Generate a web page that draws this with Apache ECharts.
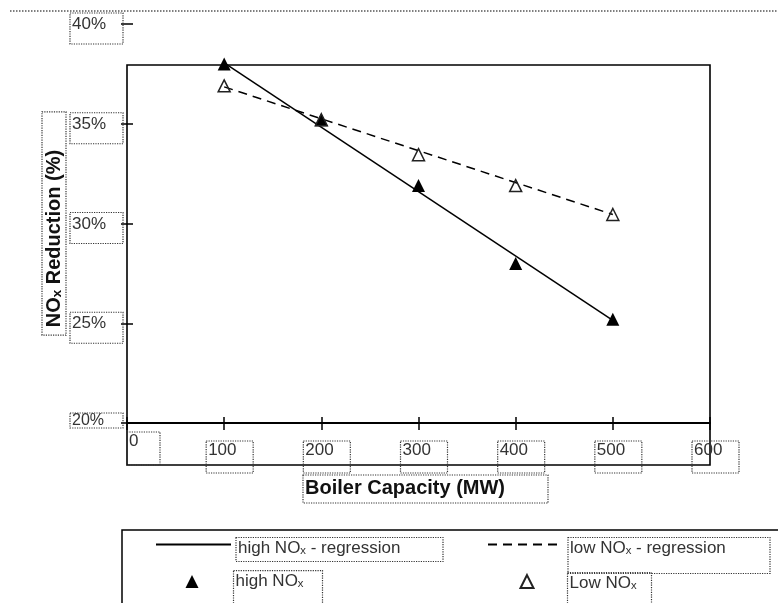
<!DOCTYPE html>
<html>
<head>
<meta charset="utf-8">
<script src="https://cdn.jsdelivr.net/npm/echarts@6/dist/echarts.min.js"></script>
<style>
  html, body { margin: 0; padding: 0; background: #fff; }
  #chart { width: 778px; height: 603px; }
</style>
</head>
<body>
<div id="chart"></div>
<script>
// ---- data ----
const capacity = [100, 200, 300, 400, 500];          // MW
const highNox = [38.0, 35.2, 31.9, 28.0, 25.2];      // % reduction, high NOx units
const lowNox = [36.9, 35.2, 33.45, 31.9, 30.45];     // % reduction, low NOx units
const highRegCap = [100, 500];
const highRegVal = [38.05, 25.15];
const lowRegCap = [100, 500];
const lowRegVal = [36.85, 30.45];
const xTicks = [0, 600, 100];   // min, max, step
const yTicks = [20, 40, 5];     // min, max, step (percent)
const seriesNames = ['high NOₓ - regression', 'low NOₓ - regression', 'high NOₓ', 'Low NOₓ'];
const xName = 'Boiler Capacity (MW)';
const yName = 'NOₓ Reduction (%)';

const FONT = "'Liberation Sans', Arial, 'DejaVu Sans', sans-serif";
const TXT = '#333';
const DOT = { borderType: 'dotted', borderColor: '#333', borderWidth: 1.2 };

function pairs(xs, ys) { return xs.map((x, i) => [x, ys[i]]); }

const chart = echarts.init(document.getElementById('chart'));

function legendBox(name, left, top, itemW, itemH, lead, spacerH, boxW, pad, hideSymbol) {
  const l = {
    data: [name], left: left, top: top, padding: 0, orient: 'horizontal',
    itemWidth: itemW, itemHeight: itemH, selectedMode: false,
    formatter: n => '{s|}{b|' + n + '}',
    textStyle: {
      fontFamily: FONT, fontSize: 17, color: TXT,
      rich: {
        s: { width: lead, height: spacerH, align: 'left' },
        b: Object.assign({ width: boxW, padding: pad, verticalAlign: 'bottom', align: 'left',
                           fontFamily: FONT, fontSize: 17, color: TXT }, DOT)
      }
    }
  };
  if (hideSymbol) l.itemStyle = { opacity: 0 };
  return l;
}

const option = {
  animation: false,
  textStyle: { fontFamily: FONT },
  graphic: [
    { type: 'line', shape: { x1: 10, y1: 11, x2: 778, y2: 11 },
      style: { stroke: '#555', lineWidth: 1.5, lineDash: [1.5, 1.5] } },
    { type: 'rect', shape: { x: 122, y: 530, width: 700, height: 120 },
      style: { fill: 'none', stroke: '#000', lineWidth: 1.5 } }
  ],
  grid: [
    { left: 127, right: 68, top: 24, bottom: 180, show: false },
    { left: 127, right: 68, top: 65, bottom: 138, show: true, borderColor: '#000', borderWidth: 1.6, backgroundColor: 'transparent' }
  ],
  xAxis: [
    {
      type: 'value', gridIndex: 0, position: 'bottom', min: xTicks[0], max: xTicks[1], interval: xTicks[2],
      axisLine: { show: true, onZero: false, lineStyle: { color: '#000', width: 2 } },
      axisTick: { show: true, inside: true, length: 6, lineStyle: { color: '#000', width: 1.5 } },
      splitLine: { show: false },
      axisLabel: {
        margin: 9, fontSize: 17, color: TXT, fontFamily: FONT,
        formatter: v => v === 0 ? '{z0|}{z|0}' : '{s|}{b|' + v + '}',
        rich: {
          s: { width: 11, height: 41, align: 'left' },
          b: Object.assign({ width: 43, padding: [1, 2, 14, 2], verticalAlign: 'bottom', align: 'left',
                             fontSize: 17, color: TXT, fontFamily: FONT }, DOT),
          z0: { width: 33, height: 1, align: 'left' },
          z: Object.assign({ width: 29, padding: [1, 2, 15, 2], verticalAlign: 'top', align: 'left',
                             fontSize: 17, color: TXT, fontFamily: FONT }, DOT)
        }
      },
      name: '{s|}{n|' + xName + '}', nameLocation: 'middle', nameGap: 52, nameMoveOverlap: false,
      nameTextStyle: {
        rich: {
          s: { width: 14, align: 'left' },
          n: Object.assign({ width: 197, padding: [3, 46, 5, 2], align: 'left',
                             fontSize: 20, fontWeight: 'bold', color: '#111', fontFamily: FONT }, DOT)
        }
      }
    },
    {
      type: 'value', gridIndex: 0, position: 'bottom', min: xTicks[0], max: xTicks[1], interval: xTicks[2],
      axisLine: { show: false }, axisLabel: { show: false }, splitLine: { show: false },
      axisTick: { show: true, inside: false, length: 7, lineStyle: { color: '#000', width: 1.5 } }
    },
    { type: 'value', gridIndex: 1, show: false }
  ],
  yAxis: [
    {
      type: 'value', gridIndex: 0, position: 'left', min: yTicks[0], max: yTicks[1], interval: yTicks[2],
      axisLine: { show: false },
      axisTick: { show: true, inside: false, length: 6, lineStyle: { color: '#000', width: 1.5 } },
      splitLine: { show: false },
      axisLabel: {
        margin: 57, align: 'left', fontSize: 17, color: TXT, fontFamily: FONT,
        formatter: v => v === yTicks[0] ? '{s2|}{c|' + v + '%}' : '{s|}{b|' + v + '%}',
        rich: {
          s: { width: 0, height: 40, align: 'left' },
          b: Object.assign({ width: 49, padding: [3, 2, 11, 2], verticalAlign: 'bottom', align: 'left',
                             fontSize: 17, color: TXT, fontFamily: FONT }, DOT),
          s2: { width: 0, height: 20, align: 'left' },
          c: Object.assign({ width: 49, height: 13, padding: [1, 2, 1, 2], verticalAlign: 'top', align: 'left',
                             fontSize: 16, color: TXT, fontFamily: FONT }, DOT)
        }
      },
      name: yName, nameLocation: 'middle', nameGap: 61, nameRotate: 90, nameMoveOverlap: false,
      nameTextStyle: Object.assign({ fontSize: 20, fontWeight: 'bold', color: '#111', fontFamily: FONT,
                                     width: 180, padding: [2, 38, 2, 8] }, DOT)
    },
    {
      type: 'value', gridIndex: 0, position: 'left', offset: 0, min: yTicks[0], max: yTicks[1], interval: yTicks[2],
      axisLine: { show: false }, axisLabel: { show: false }, splitLine: { show: false },
      axisTick: { show: true, inside: true, length: 6, lineStyle: { color: '#000', width: 1.5 } }
    },
    { type: 'value', gridIndex: 1, show: false }
  ],
  legend: [
    legendBox(seriesNames[0], 155, 536, 75, 12, 0, 34, 203, [2, 2, 5, 2], true),
    legendBox(seriesNames[1], 487, 536, 75, 12, 0, 58, 198, [2, 2, 17, 2], true),
    legendBox(seriesNames[2], 185.5, 570, 13, 13, 30, 44, 85, [2, 2, 14, 2], false),
    legendBox(seriesNames[3], 519.5, 572, 13, 13, 29, 44, 80, [2, 2, 12, 2], false)
  ],
  series: [
    {
      name: seriesNames[0], type: 'line', xAxisIndex: 0, yAxisIndex: 0,
      data: pairs(highRegCap, highRegVal), symbol: 'none', z: 2,
      lineStyle: { color: '#000', width: 1.5, type: 'solid' }, itemStyle: { color: '#000' }
    },
    {
      name: seriesNames[1], type: 'line', xAxisIndex: 0, yAxisIndex: 0,
      data: pairs(lowRegCap, lowRegVal), symbol: 'none', z: 2,
      lineStyle: { color: '#000', width: 1.5, type: [9, 6] }, itemStyle: { color: '#000' }
    },
    {
      name: seriesNames[2], type: 'scatter', xAxisIndex: 0, yAxisIndex: 0,
      data: pairs(capacity, highNox), symbol: 'triangle', symbolSize: 13, z: 3,
      itemStyle: { color: '#000', opacity: 1 }
    },
    {
      name: seriesNames[3], type: 'scatter', xAxisIndex: 0, yAxisIndex: 0,
      data: pairs(capacity, lowNox), symbol: 'triangle', symbolSize: 12, z: 3,
      itemStyle: { color: 'rgba(255,255,255,0)', borderColor: '#222', borderWidth: 1.5, opacity: 1 }
    }
  ]
};
chart.setOption(option);
</script>
</body>
</html>
